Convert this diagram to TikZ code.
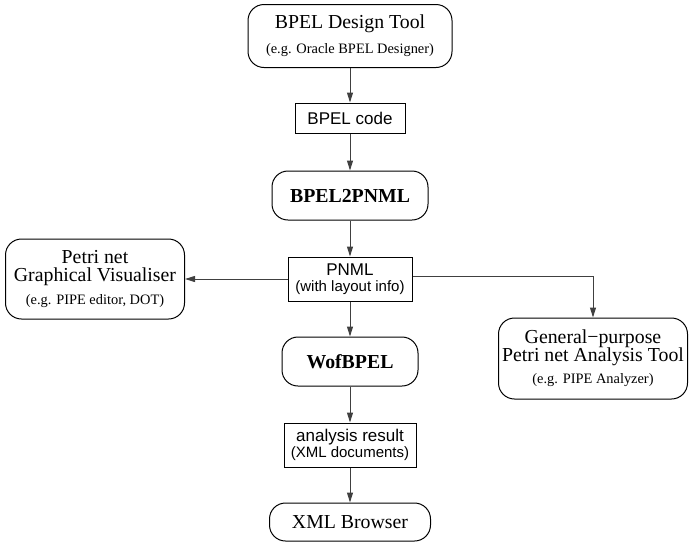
\documentclass[tikz,border=0pt]{standalone}
\usepackage{fontspec}
\setmainfont{Liberation Serif}
\setsansfont{Liberation Sans}
\usetikzlibrary{arrows.meta}
\newcommand{\mainsize}{\rmfamily\fontsize{19.8}{18}\selectfont}
\newcommand{\subsize}{\fontsize{14.4}{14}\selectfont}
\newcommand{\boxsize}{\fontsize{17}{16.5}\selectfont}
\newcommand{\boxsubsize}{\fontsize{15}{15}\selectfont}

\begin{document}
\begin{tikzpicture}
  [node distance=80pt, auto,
  line/.style={draw, -{Triangle[length=10pt,width=6pt]}, draw=black!75, line width=1pt},
  tool/.style={rectangle, rounded corners=16pt, draw=black, line width=1pt, align=center, font=\mainsize},
  data/.style={rectangle, draw=black, line width=1pt, align=center, font=\sffamily\boxsize}]
  \useasboundingbox (0pt,0pt) rectangle (689pt,-542pt);
  % nodes
  \node [tool, minimum width=204pt, minimum height=63pt] (design) at (350pt,-36pt) {BPEL Design Tool\\[7pt]{\subsize (e.g. Oracle BPEL Designer)}};
  \node [data, minimum width=110pt, minimum height=30pt, node distance=82pt, below of=design] (code) {BPEL code};
  \node [tool, minimum width=156pt, minimum height=49pt, node distance=77.5pt, below of=code] (bpel2pnml) {\bfseries BPEL2PNML};
  \node [data, minimum width=124pt, minimum height=44pt, node distance=83.5pt, below of=bpel2pnml] (pnml) {PNML\\{\boxsubsize (with layout info)}};
  \node [tool, minimum width=179pt, minimum height=80pt, node distance=255pt, left of=pnml] (visual) {Petri net\\Graphical Visualiser\\[5pt]{\subsize (e.g. PIPE editor, DOT)}};
  \node [tool, minimum width=136pt, minimum height=49pt, node distance=82.5pt, below of=pnml] (wofbpel) {\bfseries WofBPEL};
  \node [tool, minimum width=189pt, minimum height=81pt, node distance=243pt, right of=wofbpel, yshift=3pt] (general) {General−purpose\\Petri net Analysis Tool\\[4pt]{\subsize (e.g. PIPE Analyzer)}};
  \node [data, minimum width=132pt, minimum height=44pt, node distance=83.5pt, below of=wofbpel] (result) {analysis result\\{\boxsubsize (XML documents)}};
  \node [tool, minimum width=161pt, minimum height=38pt, node distance=77pt, below of=result] (browser) {XML Browser};

  % edges
  \path [line] (design) -- (code);
  \path [line] (code) -- (bpel2pnml);
  \path [line] (bpel2pnml) -- (pnml);
  \path [line] (pnml) -- (visual);
  \path [line] ([yshift=3pt]pnml.east) -| (general);
  \path [line] (pnml) -- (wofbpel);
  \path [line] (wofbpel) -- (result);
  \path [line] (result) -- (browser);

\end{tikzpicture}
\end{document}
